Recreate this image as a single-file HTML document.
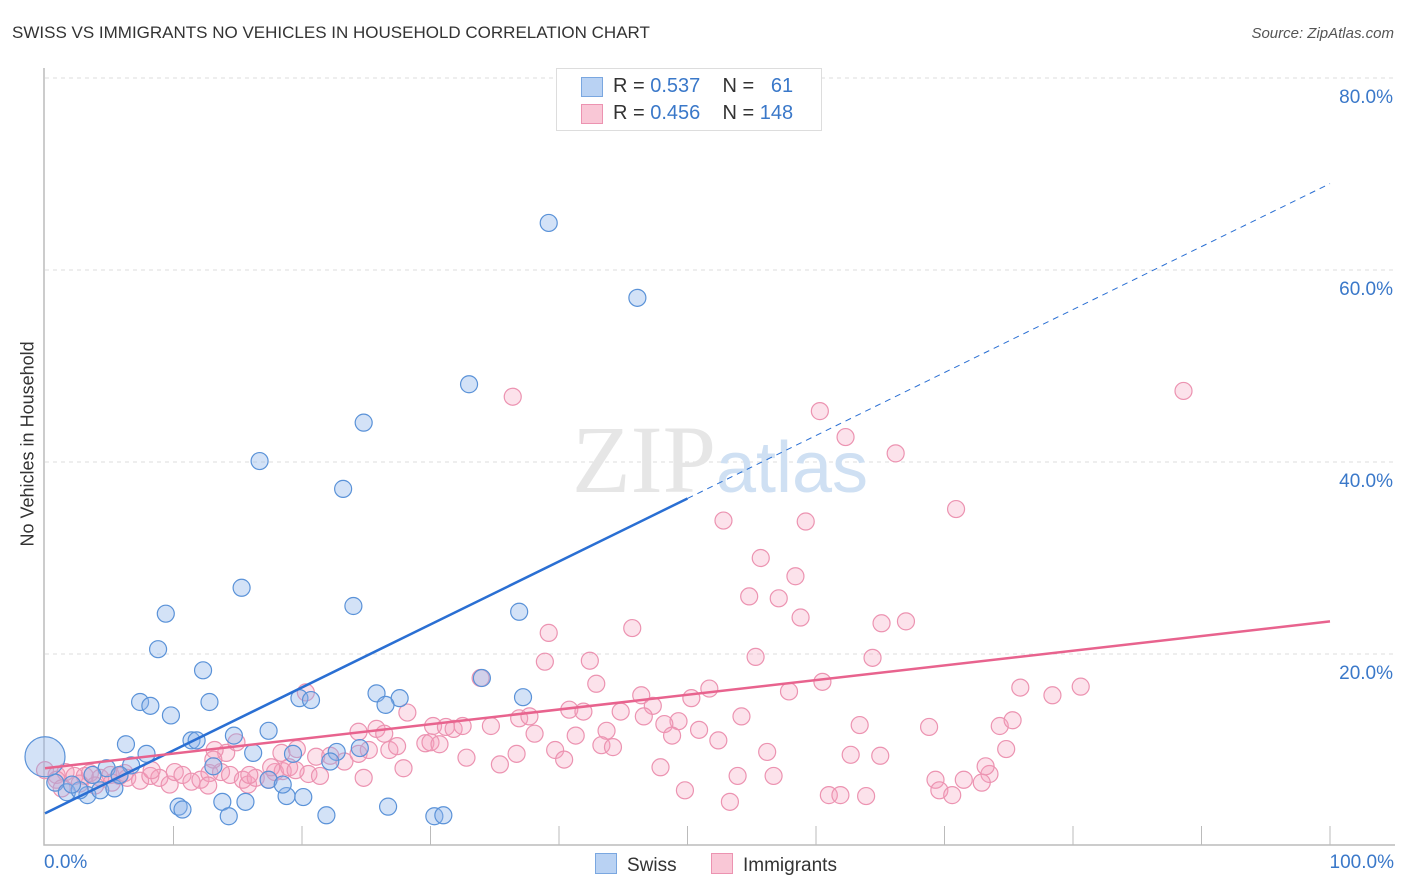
<!DOCTYPE html>
<html><head><meta charset="utf-8"><style>
body{margin:0;background:#fff;font-family:"Liberation Sans",sans-serif;}
#wrap{position:relative;width:1406px;height:892px;overflow:hidden}
.t{position:absolute;white-space:nowrap}
</style></head><body><div id="wrap">
<div class="t" style="left:12px;top:23px;font-size:17px;color:#333">SWISS VS IMMIGRANTS NO VEHICLES IN HOUSEHOLD CORRELATION CHART</div>
<div class="t" style="right:12px;top:25px;font-size:15px;color:#555;font-style:italic">Source: ZipAtlas.com</div>
<svg id="svg" width="1406" height="892" style="position:absolute;left:0;top:0"></svg>
</div>
<script>
const yTicks=[20,40,60,80];
const yTickLabels=["20.0%","40.0%","60.0%","80.0%"];
const swissX=[39.2,46.1,33.0,24.8,16.7,23.2,15.3,24.0,36.9,9.4,8.8,12.3,34.0,7.4,8.2,12.8,9.8,19.8,20.7,25.8,27.6,26.5,37.2,17.4,14.7,6.3,11.4,11.8,7.9,16.2,19.3,22.7,24.5,6.7,4.8,13.1,22.2,0.8,1.7,3.3,4.3,5.4,5.8,3.7,2.7,2.1,10.4,10.7,13.8,15.6,14.3,18.8,20.1,21.9,26.7,30.3,31.0,17.4,18.5,0];
const swissY=[64.9,57.1,48.1,44.1,40.1,37.2,26.9,25.0,24.4,24.2,20.5,18.3,17.5,15.0,14.6,15.0,13.6,15.4,15.2,15.9,15.4,14.7,15.5,12.0,11.5,10.6,11.0,11.0,9.6,9.7,9.6,9.8,10.2,8.4,8.1,8.3,8.8,6.6,5.6,5.3,5.8,6.0,7.4,7.4,5.8,6.4,4.1,3.8,4.6,4.6,3.1,5.2,5.1,3.2,4.1,3.1,3.2,6.9,6.4,9.3];
const immX=[36.4,88.6,60.3,62.3,66.2,70.9,52.8,59.2,55.7,58.4,54.8,57.1,45.7,58.8,65.1,67.0,39.2,38.9,42.4,55.3,64.4,33.9,42.9,51.7,60.5,75.9,78.4,80.6,46.4,47.3,50.3,57.9,40.8,41.9,44.8,46.6,54.2,49.3,50.9,63.4,68.8,74.3,75.3,28.2,20.3,30.2,31.2,31.8,32.5,34.7,36.9,37.7,38.1,41.3,43.7,48.2,48.8,52.4,24.4,25.8,26.4,24.4,25.2,26.8,27.4,29.6,30.0,30.7,32.8,35.4,36.7,39.7,40.4,43.3,44.2,56.2,62.7,65.0,74.8,14.1,14.9,13.2,18.4,19.6,21.1,22.2,23.3,20.5,21.4,24.8,27.9,47.9,53.9,56.7,69.3,71.5,73.5,73.2,69.6,70.6,72.9,61.0,61.9,63.9,49.8,53.3,0,0.9,1.6,2.3,3.1,3.5,4.3,5.1,5.8,6.4,7.4,8.2,8.9,9.7,10.1,10.7,11.4,12.1,12.8,13.7,14.4,15.4,15.8,16.4,17.4,17.9,18.5,19.0,19.5,0.9,2.7,3.9,1.3,5.2,6.2,8.3,12.7,17.6,15.9,13.1];
const immY=[46.8,47.4,45.3,42.6,40.9,35.1,33.9,33.8,30.0,28.1,26.0,25.8,22.7,23.8,23.2,23.4,22.2,19.2,19.3,19.7,19.6,17.5,16.9,16.4,17.1,16.5,15.7,16.6,15.7,14.6,15.4,16.1,14.2,14.0,14.0,13.5,13.5,13.0,12.1,12.6,12.4,12.5,13.1,13.9,16.0,12.5,12.4,12.2,12.5,12.5,13.3,13.5,11.7,11.5,12.0,12.7,11.5,11.0,11.9,12.2,11.7,9.6,10.0,10.0,10.4,10.7,10.8,10.6,9.2,8.5,9.6,10.0,9.0,10.5,10.3,9.8,9.5,9.4,10.1,9.7,10.8,10.0,9.7,10.1,9.3,9.4,8.8,7.5,7.3,7.1,8.1,8.2,7.3,7.3,6.9,6.9,7.5,8.3,5.8,5.3,6.6,5.3,5.3,5.2,5.8,4.6,7.9,7.4,7.7,7.3,7.3,7.6,7.1,7.4,7.3,7.1,6.8,7.3,7.1,6.4,7.7,7.4,6.7,6.9,7.6,7.7,7.4,6.9,6.4,7.1,6.9,7.7,7.8,8.2,7.9,6.9,6.5,6.3,6.0,6.6,7.6,7.9,6.3,8.2,7.4,9.0];
const swissTrend=[3.4,69.0];
const immTrend=[8.1,23.4];
const X=v=>45+12.85*v, Y=v=>846-9.6*v;
const svg=document.getElementById('svg');const NS='http://www.w3.org/2000/svg';
function mk(tag,at,parent){const e=document.createElementNS(NS,tag);for(const k in at)e.setAttribute(k,at[k]);(parent||svg).appendChild(e);return e;}
yTicks.forEach((t,i)=>{
const g=mk('line',{x1:45,x2:1395,y1:Y(t),y2:Y(t),stroke:'#ddd','stroke-dasharray':'4,4'});


const l=mk('text',{x:1393,y:Y(t)+25,'text-anchor':'end','font-size':19,fill:'#3a78c9','font-family':'Liberation Sans'});l.textContent=yTickLabels[i];


});
const ax=mk('path',{d:'M44,68V845H1395',stroke:'#bbb',fill:'none','stroke-width':1.5});


for(let i=1;i<=10;i++){const t=mk('line',{x1:45+128.5*i,x2:45+128.5*i,y1:826,y2:845,stroke:'#bbb'});

}
const wm=mk('text',{x:720,y:492,'text-anchor':'middle','font-size':96,fill:'#e6e6e6','font-family':'Liberation Serif'});wm.innerHTML='ZIP<tspan fill="#cfe0f3" font-family="Liberation Sans" font-size="72">atlas</tspan>';


immX.forEach((x,i)=>{const c=mk('circle',{cx:X(x),cy:Y(immY[i]),r:8.5,fill:'rgba(244,160,188,0.3)',stroke:'#ec93b1','stroke-width':1.2});

});
swissX.forEach((x,i)=>{const c=mk('circle',{cx:X(x),cy:Y(swissY[i]),r:i==swissX.length-1?20:8.5,fill:'rgba(140,180,235,0.38)',stroke:'#5a92d8','stroke-width':1.2});

});
const sx=50;const sy=swissTrend[0]+(swissTrend[1]-swissTrend[0])*sx/100;
const l1=mk('line',{x1:X(0),y1:Y(swissTrend[0]),x2:X(sx),y2:Y(sy),stroke:'#2a6fd3','stroke-width':2.5});


const l2=mk('line',{x1:X(sx),y1:Y(sy),x2:X(100),y2:Y(swissTrend[1]),stroke:'#2a6fd3','stroke-width':1,'stroke-dasharray':'6,5'});


const l3=mk('line',{x1:X(0),y1:Y(immTrend[0]),x2:X(100),y2:Y(immTrend[1]),stroke:'#e8638e','stroke-width':2.5});


</script>
<div class="t" style="left:-62px;top:446px;transform:rotate(-90deg);font-size:18px;color:#333;width:180px;text-align:center">No Vehicles in Household</div>
<div class="t" style="left:44px;top:852px;font-size:19px;color:#3a78c9">0.0%</div>
<div class="t" style="right:12px;top:852px;font-size:19px;color:#3a78c9">100.0%</div>
<div style="position:absolute;left:556px;top:68px;width:264px;height:61px;border:1px solid #ddd;background:#fff;font-size:20px;color:#333">
<div class="t" style="left:26px;top:6px"><span style="position:absolute;left:-2px;top:2px;width:20px;height:18px;background:#b9d2f3;border:1px solid #7aa7e0"></span><span style="margin-left:30px">R = <span style="color:#3a78c9">0.537</span>&nbsp;&nbsp;&nbsp; N = &nbsp;&nbsp;<span style="color:#3a78c9">61</span></span></div>
<div class="t" style="left:26px;top:33px"><span style="position:absolute;left:-2px;top:2px;width:20px;height:18px;background:#f9c7d6;border:1px solid #ec93b1"></span><span style="margin-left:30px">R = <span style="color:#3a78c9">0.456</span>&nbsp;&nbsp;&nbsp; N = <span style="color:#3a78c9">148</span></span></div>
</div>
<div class="t" style="left:595px;top:853px;font-size:19px;color:#333"><span style="display:inline-block;width:20px;height:19px;background:#b9d2f3;border:1px solid #7aa7e0;vertical-align:-3px;margin-right:10px"></span>Swiss</div>
<div class="t" style="left:711px;top:853px;font-size:19px;color:#333"><span style="display:inline-block;width:20px;height:19px;background:#f9c7d6;border:1px solid #ec93b1;vertical-align:-3px;margin-right:10px"></span>Immigrants</div>
</body></html>
